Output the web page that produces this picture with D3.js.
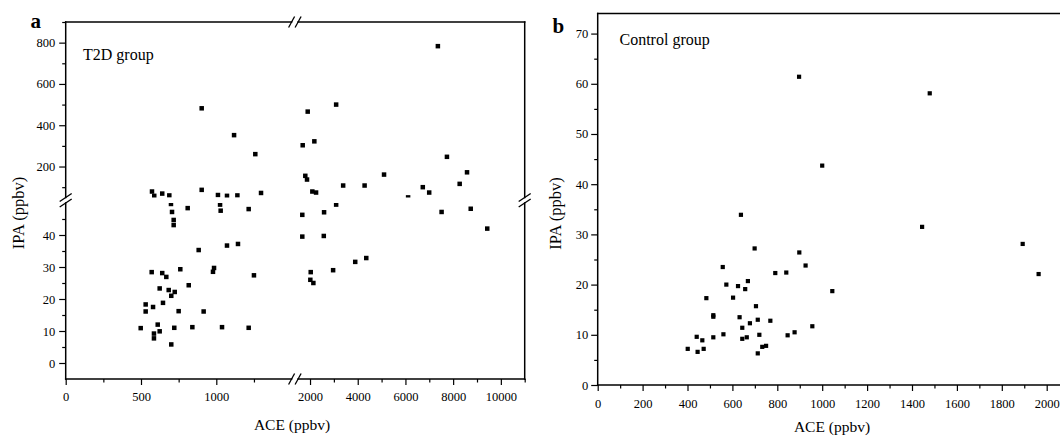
<!DOCTYPE html>
<html><head><meta charset="utf-8">
<script src="https://cdn.jsdelivr.net/npm/d3@7"></script>
<style>
body{margin:0;background:#fff}
svg text{font-family:"Liberation Serif","Tinos","Times New Roman","DejaVu Serif",serif !important;fill:#000}
</style>
</head><body>
<svg id="c" width="1060" height="439"></svg>
<script>
// ---------- DATA ----------
// Panel a: T2D group (ACE, IPA in ppbv)
const t2dACE = [903,1118,1259,573,588,641,688,903,1011,1071,1140,1297,
  699,706,717,717,810,1025,1029,1215,883,1071,1144,571,641,668,761,978,985,1250,
  531,531,580,624,684,724,701,646,817,750,916,498,611,586,586,624,721,701,841,1038,1215,
  7360,3095,1903,2181,1693,7740,1802,1874,5103,8582,8274,2097,2253,3389,4288,6112,6728,6996,
  7516,8737,1676,2589,3095,9430,1676,2577,4358,2029,2013,2140,2968,3895];
const t2dIPA = [482,352,260,79,58,69,60,87,62,58,60,72,
  49.7,47.2,44.7,43.1,48.4,49.5,47.6,48.1,35.3,36.7,37.2,28.4,28.1,26.9,29.3,28.5,29.7,27.4,
  18.3,16.1,17.5,23.3,22.8,22.2,21.0,18.8,24.3,16.2,16.1,10.9,12.0,9.2,7.7,9.9,11.0,5.8,11.2,11.2,11.0,
  783,500,466,322,303,247,155,137,161,172,116,79,74,108,108,50.5,100,74,
  47.2,48.2,46.3,47.1,49.5,42.0,39.5,39.7,32.8,28.4,26.0,25.0,29.0,31.6];
// Panel b: Control group
const ctrlACE = [897,1479,1000,638,1445,1893,1964,898,926,1045,956,877,699,557,791,840,573,625,669,657,
  484,603,705,515,515,632,713,769,678,644,720,846,560,515,441,466,644,664,401,445,472,733,750,713];
const ctrlIPA = [61.4,58.1,43.7,33.9,31.5,28.1,22.1,26.4,23.8,18.7,11.7,10.5,27.2,23.5,22.3,22.4,20.0,19.7,20.7,19.1,
  17.3,17.4,15.7,13.9,13.6,13.5,13.0,12.8,12.3,11.4,10.0,9.9,10.1,9.5,9.6,8.9,9.2,9.5,7.2,6.6,7.2,7.6,7.8,6.3];

// Tick values
const aXTicksLow = [0,500,1000], aXMinorLow = [250,750,1250];
const aXTicksHigh = [2000,4000,6000,8000,10000], aXMinorHigh = [3000,5000,7000,9000,11000];
const aYTicksLow = [0,10,20,30,40], aYMinorLow = [5,15,25,35,45];
const aYTicksHigh = [200,400,600,800], aYMinorHigh = [100,300,500,700,900];
const bXTicks = [0,200,400,600,800,1000,1200,1400,1600,1800,2000];
const bXMinor = [100,300,500,700,900,1100,1300,1500,1700,1900,2100];
const bYTicks = [0,10,20,30,40,50,60,70], bYMinor = [5,15,25,35,45,55,65];

// ---------- DRAW ----------
const FONT = "'Liberation Serif','Tinos','Times New Roman','DejaVu Serif',serif";
const svg = d3.select("#c");
const SW = 1.5;

// Panel a scales (broken axes)
const axL = d3.scaleLinear().domain([0,1500]).range([65.7,291.6]);
const axH = d3.scaleLinear().domain([1500,11000]).range([298.1,524.7]);
const ayL = d3.scaleLinear().domain([-5,50]).range([379,203]);
const ayH = d3.scaleLinear().domain([50,900]).range([197.5,22]);

// Panel b scales
const bx = d3.scaleLinear().domain([0,2200]).range([597.7,1091.6]);
const by = d3.scaleLinear().domain([0,74]).range([385,13.5]);

function styleAxis(g, fs){
  g.attr("font-family", FONT);
  g.select(".domain").remove();
  g.selectAll(".tick line").attr("stroke","#000").attr("stroke-width",1.2);
  g.selectAll(".tick text").attr("font-family",FONT).style("font-size",fs+"px").attr("fill","#000");
}
function bottomAxis(scale, y, major, minor, pad){
  const g1 = svg.append("g").attr("transform",`translate(0,${y})`)
    .call(d3.axisBottom(scale).tickValues(major).tickSize(6).tickSizeOuter(0).tickPadding(pad).tickFormat(d3.format("d")));
  styleAxis(g1, 12.5);
  const g2 = svg.append("g").attr("transform",`translate(0,${y})`)
    .call(d3.axisBottom(scale).tickValues(minor).tickSize(3.5).tickSizeOuter(0).tickFormat(()=>""));
  styleAxis(g2, 12.5);
}
function leftAxis(scale, x, major, minor, pad){
  const g1 = svg.append("g").attr("transform",`translate(${x},0)`)
    .call(d3.axisLeft(scale).tickValues(major).tickSize(6.5).tickSizeOuter(0).tickPadding(pad).tickFormat(d3.format("d")));
  styleAxis(g1, 12.5);
  const g2 = svg.append("g").attr("transform",`translate(${x},0)`)
    .call(d3.axisLeft(scale).tickValues(minor).tickSize(3.5).tickSizeOuter(0).tickFormat(()=>""));
  styleAxis(g2, 12.5);
}
function line(x1,y1,x2,y2){
  svg.append("line").attr("x1",x1).attr("y1",y1).attr("x2",x2).attr("y2",y2)
    .attr("stroke","#000").attr("stroke-width",SW).attr("stroke-linecap","square");
}
function bline(x1,y1,x2,y2){
  svg.append("line").attr("x1",x1).attr("y1",y1).attr("x2",x2).attr("y2",y2)
    .attr("stroke","#000").attr("stroke-width",1.3);
}
function hBreak(xa, xb, y){ [xa,xb].forEach(x=>bline(x-3,y+5.5,x+3,y-5.5)); }
function vBreak(ya, yb, x){ [ya,yb].forEach(y=>bline(x-6,y+4,x+6,y-4)); }
function label(x,y,txt,size,opts={}){
  const t = svg.append("text").attr("font-family",FONT).style("font-size",size+"px").text(txt);
  if(opts.rotate){ t.attr("transform",`translate(${x},${y}) rotate(-90)`); } else { t.attr("x",x).attr("y",y); }
  if(opts.anchor) t.attr("text-anchor",opts.anchor);
  if(opts.bold) t.style("font-weight","bold");
  return t;
}

// ----- Panel a frame -----
const xl0 = axL.range()[0], xl1 = axL.range()[1], xh0 = axH.range()[0], xh1 = axH.range()[1];
const yl0 = ayL.range()[0], yl1 = ayL.range()[1], yh0 = ayH.range()[0], yh1 = ayH.range()[1];
line(xl0,yl0,xl1,yl0); line(xh0,yl0,xh1,yl0);   // bottom
line(xl0,yh1,xl1,yh1); line(xh0,yh1,xh1,yh1);   // top
line(xl0,yl0,xl0,yl1); line(xl0,yh0,xl0,yh1);   // left
line(xh1,yl0,xh1,yl1); line(xh1,yh0,xh1,yh1);   // right
hBreak(xl1,xh0,yl0); hBreak(xl1,xh0,yh1);
vBreak(yl1,yh0,xl0); vBreak(yl1,yh0,xh1);

bottomAxis(axL, yl0, aXTicksLow, aXMinorLow, 7.5);
bottomAxis(axH, yl0, aXTicksHigh, aXMinorHigh, 7.5);
leftAxis(ayL, xl0, aYTicksLow, aYMinorLow, 4);
leftAxis(ayH, xl0, aYTicksHigh, aYMinorHigh, 4);

// clip regions for the four quadrants
const defs = svg.append("defs");
const quads = [
  {id:"qLL", xs:axL, ys:ayL}, {id:"qHL", xs:axH, ys:ayL},
  {id:"qLH", xs:axL, ys:ayH}, {id:"qHH", xs:axH, ys:ayH}];
quads.forEach(q=>{
  const xr = q.xs.range(), yr = q.ys.range();
  defs.append("clipPath").attr("id",q.id).append("rect")
    .attr("x",xr[0]).attr("y",yr[1]).attr("width",xr[1]-xr[0]).attr("height",yr[0]-yr[1]);
});
const aPts = t2dACE.map((v,i)=>({x:v, y:t2dIPA[i]}));
quads.forEach(q=>{
  const g = svg.append("g").attr("clip-path",`url(#${q.id})`);
  const sel = aPts.filter(p => ((p.x<=1500)===(q.xs===axL)) && ((p.y<50)===(q.ys===ayL)));
  const s = 4.5;
  g.selectAll("rect").data(sel).join("rect")
    .attr("x",p=>q.xs(p.x)-s/2).attr("y",p=>q.ys(p.y)-s/2)
    .attr("width",s).attr("height",s).attr("fill","#000");
});

// texts panel a
label(30.5,27.5,"a",21,{bold:true});
label(83,59.5,"T2D group",16);
label(292,430,"ACE (ppbv)",15.5,{anchor:"middle"});
label(23.5,213,"IPA (ppbv)",16.5,{anchor:"middle",rotate:true});

// ----- Panel b -----
const bx0 = bx.range()[0], bx1 = bx.range()[1], by0 = by.range()[0], by1 = by.range()[1];
line(bx0,by0,bx1,by0); line(bx0,by1,bx1,by1); line(bx0,by0,bx0,by1); line(bx1,by0,bx1,by1);
bottomAxis(bx, by0, bXTicks, bXMinor, 8);
leftAxis(by, bx0, bYTicks, bYMinor, 3);
const s2 = 4.2;
svg.append("g").selectAll("rect").data(ctrlACE.map((v,i)=>({x:v,y:ctrlIPA[i]}))).join("rect")
  .attr("x",p=>bx(p.x)-s2/2).attr("y",p=>by(p.y)-s2/2).attr("width",s2).attr("height",s2).attr("fill","#000");

label(552.5,33.3,"b",21,{bold:true});
label(619.5,44.5,"Control group",16);
label(832,432,"ACE (ppbv)",15.5,{anchor:"middle"});
label(560.5,213.5,"IPA (ppbv)",16.5,{anchor:"middle",rotate:true});
</script>
</body></html>
